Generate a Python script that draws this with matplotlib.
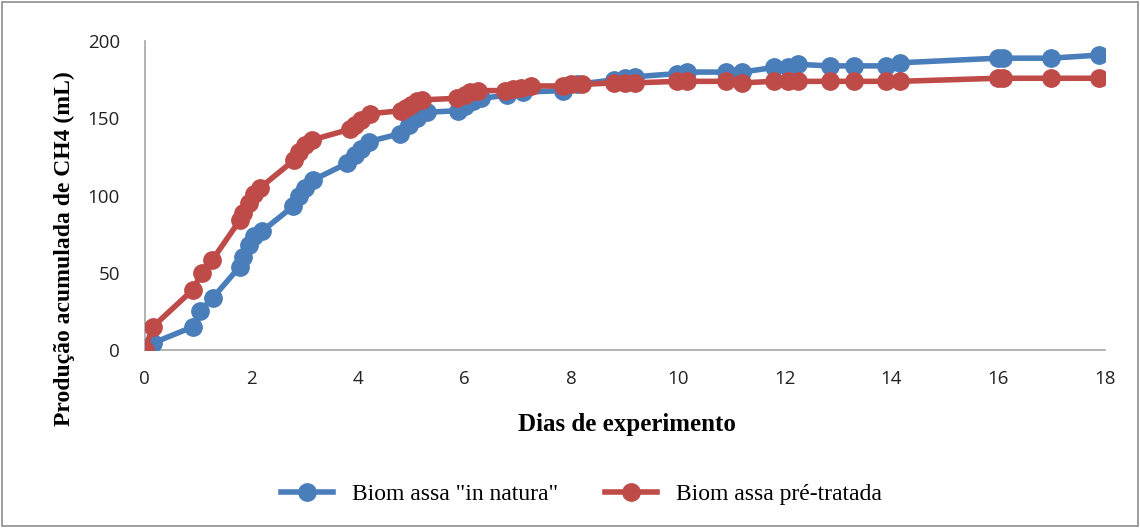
import matplotlib
matplotlib.use('Agg')
import matplotlib.pyplot as plt
from matplotlib.patches import Rectangle

# dados
dias_natura = [0, 0.15, 0.9, 1.03, 1.28, 1.78, 1.85, 1.95, 2.05, 2.2,
               2.78, 2.9, 3.0, 3.15, 3.8, 3.95, 4.05, 4.2,
               4.78, 4.95, 5.1, 5.3, 5.87, 6.0, 6.15, 6.3, 6.8, 7.1, 7.84,
               8.1, 8.8, 9.0, 9.2, 9.98, 10.17, 10.9, 11.2, 11.8, 12.06, 12.25,
               12.85, 13.3, 13.9, 14.16, 16.0, 16.1, 17.0, 17.9]
prod_natura = [0, 4.5, 15, 25, 34, 54, 60, 68, 74, 77,
               93, 100, 105, 110, 121, 126, 130, 135,
               140, 146, 150, 154, 155, 158, 161, 163, 165, 167, 168,
               172, 175, 176, 177, 179, 180, 180, 180, 183, 183, 185,
               184, 184, 184, 186, 189, 189, 189, 191]

dias_pre = [0, 0.15, 0.9, 1.07, 1.26, 1.78, 1.85, 1.95, 2.05, 2.16,
            2.8, 2.9, 3.0, 3.13, 3.85, 3.95, 4.05, 4.22,
            4.8, 4.9, 5.0, 5.1, 5.2, 5.85, 6.0, 6.1, 6.25, 6.75, 6.9, 7.05, 7.25,
            7.85, 8.0, 8.2, 8.8, 9.0, 9.2, 9.98, 10.17, 10.9, 11.2, 11.8, 12.06,
            12.25, 12.85, 13.3, 13.9, 14.16, 16.0, 16.1, 17.0, 17.9]
prod_pre = [0, 15, 39, 50, 58, 84, 89, 95, 101, 105,
            123, 128, 133, 136, 143, 146, 149, 153,
            155, 157, 159, 161, 162, 163, 165, 167, 168, 168, 169, 170, 171,
            171, 172, 172, 173, 173, 173, 174, 174, 174, 173, 174, 174,
            174, 174, 174, 174, 174, 176, 176, 176, 176]

azul = '#4A7EBB'
vermelho = '#BE4B48'

fig = plt.figure(figsize=(11.4, 5.28), dpi=100)
ax = fig.add_axes([0.127, 0.337, 0.842, 0.585])

ax.plot(dias_natura, prod_natura, color=azul, lw=4, marker='o', ms=12.5,
        label='Biom assa "in natura"', zorder=3)
ax.plot(dias_pre, prod_pre, color=vermelho, lw=4, marker='o', ms=12.5,
        label='Biom assa pré-tratada', zorder=4)

ax.set_xlim(0, 18)
ax.set_ylim(0, 200)
ax.set_xticks(range(0, 19, 2))
ax.set_yticks(range(0, 201, 50))
ax.tick_params(length=0, labelsize=13.5, colors='#222222')
for lab in ax.get_xticklabels() + ax.get_yticklabels():
    lab.set_family('Open Sans')
ax.tick_params(axis='x', pad=14)
ax.tick_params(axis='y', pad=18)

for s in ['top', 'right']:
    ax.spines[s].set_visible(False)
for s in ['left', 'bottom']:
    ax.spines[s].set_color('#A6A6A6')
    ax.spines[s].set_linewidth(1.2)

ax.set_xlabel('Dias de experimento', family='Liberation Serif',
              fontweight='bold', fontsize=18)
ax.xaxis.set_label_coords(0.502, -0.205)
ax.set_ylabel('Produção acumulada de CH4 (mL)', family='Liberation Serif',
              fontweight='bold', fontsize=17)
ax.yaxis.set_label_coords(-0.073, 0.33)

leg = fig.legend(loc='center', bbox_to_anchor=(0.51, 0.063), ncol=2,
                 frameon=False, handlelength=2.2, columnspacing=2.0,
                 prop={'family': 'Liberation Serif', 'size': 17})

# moldura externa
fig.patches.append(Rectangle((0.002, 0.003), 0.996, 0.994, transform=fig.transFigure,
                             fill=False, edgecolor='#8C8C8C', lw=1.2))

fig.savefig('out.png', dpi=100)
